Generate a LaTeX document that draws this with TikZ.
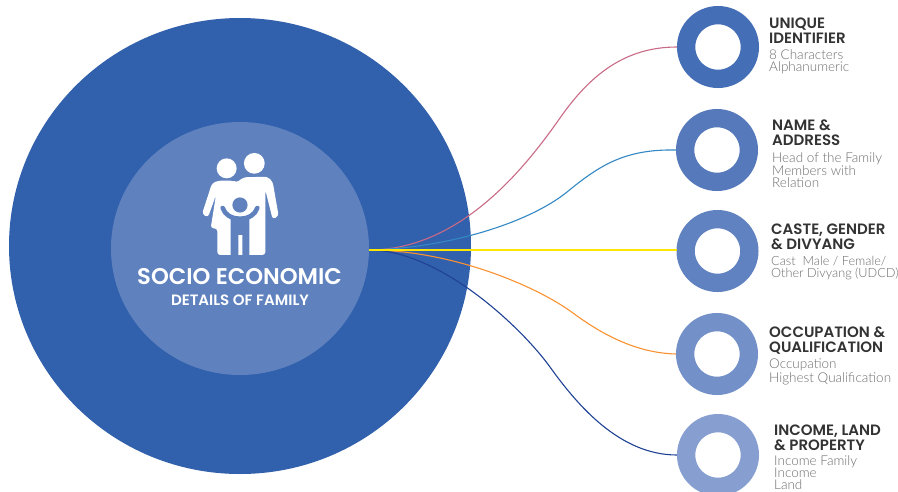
\documentclass[tikz,border=0pt]{standalone}
\usetikzlibrary{shapes.geometric}
\usepackage{fontspec}
\setmainfont{Lato}
\newfontfamily\headf{Poppins}[UprightFont=* SemiBold,BoldFont=* Bold]
\newfontfamily\descf{Lato Light}
\definecolor{bigblue}{HTML}{3160AC}
\definecolor{innerblue}{HTML}{5F82BF}
\definecolor{ringa}{HTML}{446EB5}
\definecolor{ringb}{HTML}{5579BB}
\definecolor{ringc}{HTML}{6182C0}
\definecolor{ringd}{HTML}{7391C8}
\definecolor{ringe}{HTML}{869ED0}
\definecolor{headtxt}{HTML}{333333}
\definecolor{desctxt}{HTML}{6E6E6E}
\definecolor{cpink}{HTML}{C96B86}
\definecolor{cblue}{HTML}{3488C4}
\definecolor{corange}{HTML}{FA9232}
\definecolor{cnavy}{HTML}{204296}
\definecolor{cyellow}{HTML}{FFE600}
\tikzset{
  ring/.style={circle,draw=#1,line width=18.3pt,fill=white,minimum size=63.7pt,inner sep=0pt},
  ttl/.style={anchor=north west,inner sep=0pt,align=left,text=headtxt,font=\headf\fontsize{15}{15}\selectfont},
  dsc/.style={anchor=north west,inner sep=0pt,align=left,text=desctxt,font=\descf\fontsize{13.5}{12}\selectfont},
  conn/.style={line width=1.1pt,draw=#1},
  icon/.style={fill=white,draw=none},
  disc/.style={ellipse,fill=#1,inner sep=0pt}
}
\begin{document}
\begin{tikzpicture}[x=1pt,y=-1pt]
\useasboundingbox (0,0) rectangle (898,491);
\fill[white] (0,0) rectangle (898,491);
\node[disc=bigblue,minimum width=462pt,minimum height=456pt] (big) at (240,246) {};
\node[disc=innerblue,minimum width=258pt,minimum height=253pt] (inner) at (240,248.5) {};
\coordinate (hub) at (369,250);
\node[ring=ringa] (r1) at (718,47) {};
\node[ring=ringb] (r2) at (717,150) {};
\node[ring=ringc] (r3) at (717.5,251) {};
\node[ring=ringd] (r4) at (717,354) {};
\node[ring=ringe] (r5) at (718,455) {};
\draw[conn=cpink] (hub) .. controls (460,250) and (525,168) .. (560,118) .. controls (590,75) and (625,47) .. (r1.west);
\draw[conn=cblue] (hub) .. controls (450,248) and (530,222) .. (567,192) .. controls (600,165) and (625,149) .. (r2.west);
\draw[conn=corange] (hub) .. controls (450,250) and (535,285) .. (573,313) .. controls (600,333) and (635,353) .. (r4.west);
\draw[conn=cnavy] (hub) .. controls (440,250) and (522,328) .. (550,367) .. controls (578,406) and (620,455) .. (r5.west);
\draw[conn=cyellow,line width=1.4pt] (hub) -- (r3.west |- hub);
% icon
\begin{scope}[shift={(180,140)},x=0.3333pt,y=-0.3333pt]
\fill[icon] (140,85) circle (10pt);
\fill[icon] (223,70) circle (10.4pt);
\fill[icon,rounded corners=3pt] (170,128) -- (190,112) -- (262,110) -- (278,125) -- (296,228) -- (278,238) -- (256,150) -- (256,345) -- (112,345) -- (112,265) -- (92,265) -- (108,165) -- (84,232) -- (66,222) -- (96,130) -- (115,122) -- (160,122) -- cycle;
\fill[innerblue] (180,195) circle (7.6pt);
\draw[innerblue,line width=4.6pt,line cap=round] (128,204) .. controls (135,225) and (155,236) .. (180,236) .. controls (205,236) and (225,225) .. (232,204);
\fill[innerblue] (152,236) -- (208,236) -- (208,348) -- (187,348) -- (187,285) -- (175,285) -- (175,348) -- (152,348) -- cycle;
\end{scope}
\node[inner sep=0pt,text=white,font=\headf\fontsize{22.7}{24}\selectfont] (mt) at (239.5,277) {SOCIO ECONOMIC};
\node[inner sep=0pt,text=white,font=\headf\fontsize{15}{15}\selectfont] (st) at (240,300) {DETAILS OF FAMILY};
\node[ttl] (t1) at (769,18) {UNIQUE\\IDENTIFIER};
\node[dsc] (d1) at (769,49) {8 Characters\\Alphanumeric};
\node[ttl] (t2) at (772,120) {NAME \&\\ADDRESS};
\node[dsc] (d2) at (772,152) {Head of the Family\\Members with\\Relation};
\node[ttl] (t3) at (771,224) {CASTE, GENDER\\\& DIVYANG};
\node[dsc,font=\descf\fontsize{12.7}{12}\selectfont] (d3) at (771,256) {Cast\ \ Male / Female/\\Other Divyang (UDCD)};
\node[ttl] (t4) at (769,327) {OCCUPATION \&\\QUALIFICATION};
\node[dsc] (d4) at (769,359) {Occupation\\Highest Qualification};
\node[ttl] (t5) at (774,425) {INCOME, LAND\\\& PROPERTY};
\node[dsc] (d5) at (774,455.5) {Income Family\\Income\\Land};
\end{tikzpicture}
\end{document}
